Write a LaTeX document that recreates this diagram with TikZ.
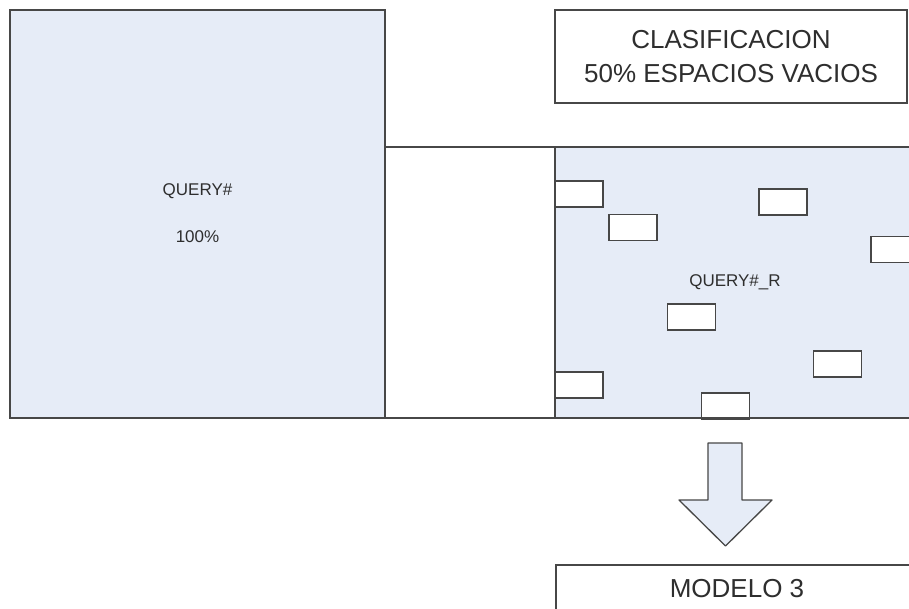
\documentclass[tikz,border=0pt]{standalone}
\usepackage{fontspec}
\setmainfont{Liberation Sans}
\begin{document}
\begin{tikzpicture}[x=1pt,y=-1pt,
  edge/.style={draw=black!72,line width=1.3pt},
  bluebox/.style={edge,fill=paleblue,rectangle,inner sep=0pt,outer sep=0pt},
  whitebox/.style={edge,fill=white,rectangle,inner sep=0pt,outer sep=0pt},
  slot/.style={whitebox,minimum width=48pt,minimum height=26pt},
  smalltxt/.style={text=black!82,font=\fontsize{17}{20}\selectfont},
  bigtxt/.style={text=black!82,font=\fontsize{26}{34}\selectfont}]
\definecolor{paleblue}{HTML}{E6ECF7}
\useasboundingbox (0,0) rectangle (909,609);
\clip (0,0) rectangle (909,609);
% source table, gap and the reduced table
\node[bluebox,minimum width=375pt,minimum height=408pt] (src) at (197.5,214) {};
\node[smalltxt] (srcname) at ([yshift=23pt]src.center) {QUERY\#};
\node[smalltxt] (srcpct) at ([yshift=-23pt]src.center) {100\%};
\node[whitebox,minimum width=170pt,minimum height=271pt] (gap) at (470,282.5) {};
\node[bluebox,minimum width=360pt,minimum height=271pt] (red) at (735,282.5) {};
\node[smalltxt] (redname) at (735,282) {QUERY\#\_R};
% empty slots inside the reduced table
\node[slot] (s1) at (579,194) {};
\node[slot] (s2) at (633,227.5) {};
\node[slot] (s3) at (783,202) {};
\node[slot] (s4) at (895,249.5) {};
\node[slot] (s5) at (691.5,317) {};
\node[slot] (s6) at (837.5,364) {};
\node[slot] (s7) at (579,385) {};
\node[slot] (s8) at (725.5,406) {};
\draw[edge] (red.south west) -- (red.south east);
% caption
\node[whitebox,minimum width=352pt,minimum height=93pt,align=center,bigtxt] (cls) at (731,56.5)
  {CLASIFICACION\\50\% ESPACIOS VACIOS};
% result
\node[whitebox,minimum width=362pt,minimum height=48pt,bigtxt] (mod) at (737,589) {MODELO 3};
% block arrow from the reduced table to the result
\coordinate (tip) at (725.5,546);
\draw[edge,fill=paleblue,line join=round]
  (708,443) -- (742,443) -- (742,500) -- (772,500) -- (tip)
  -- (679,500) -- (708,500) -- cycle;
\end{tikzpicture}
\end{document}
